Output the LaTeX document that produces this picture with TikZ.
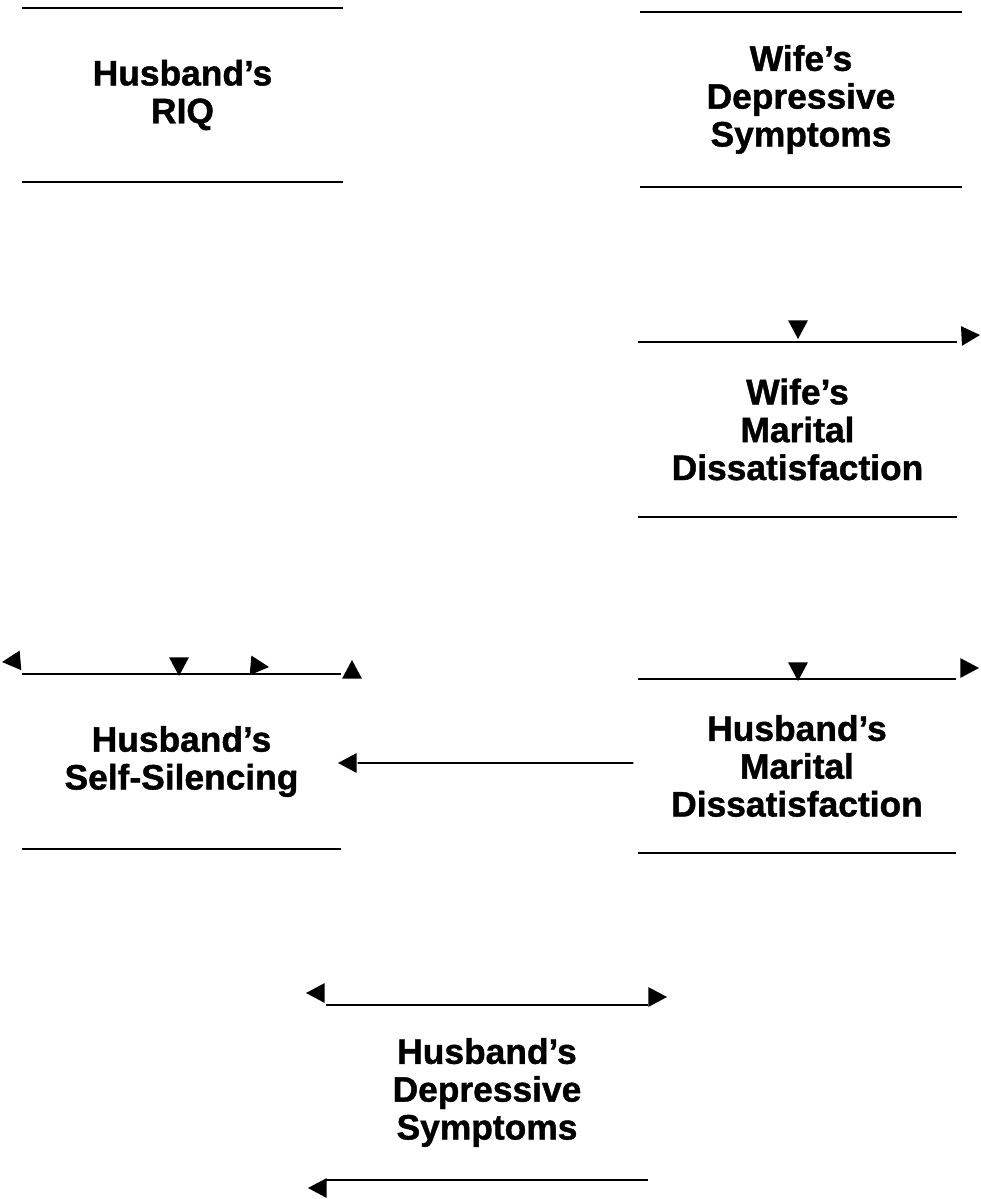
\documentclass[tikz,border=0pt]{standalone}
\usepackage{fontspec}
\setmainfont{Liberation Sans}[BoldFeatures={FakeBold=1.2}]
\usetikzlibrary{calc}

% filled triangular arrow tip: tip point (x,y) and the direction it points to
\newcommand\tipat[3]{\fill (#1,#2) -- +(#3+152:21) -- +(#3+208:21) -- cycle;}

\tikzset{
  box/.style 2 args={minimum width=#1, minimum height=#2, inner sep=0pt,
    align=center, font=\fontsize{35.5}{38}\selectfont\bfseries},
  rule/.style={line width=1.8bp},
  arr/.style={line width=1.8bp}
}

\begin{document}
\begin{tikzpicture}[x=1bp, y=-1bp]
\useasboundingbox (0,0) rectangle (981,1199);

% variable blocks
\node[box={321}{174}] (riq)  at (182.5,95)   {Husband's\\RIQ};
\node[box={322}{175}] (wdep) at (801,99.5)   {Wife's\\Depressive\\Symptoms};
\node[box={319}{175}] (wmd)  at (797.5,429.5){Wife's\\Marital\\Dissatisfaction};
\node[box={319}{175}] (hss)  at (181.5,761.5){Husband's\\Self-Silencing};
\node[box={318}{174}] (hmd)  at (797,766)    {Husband's\\Marital\\Dissatisfaction};
\node[box={322}{175}] (hdep) at (487,1092.5) {Husband's\\Depressive\\Symptoms};

% top and bottom rules of every block
\foreach \b in {riq,wdep,wmd,hss,hmd,hdep}{
  \draw[rule] (\b.north west) -- (\b.north east);
  \draw[rule] (\b.south west) -- (\b.south east);
}

% path from husband's marital dissatisfaction to self-silencing
\coordinate (hmdout) at ($(hmd.west)+(-5,-3)$);
\coordinate (hssin)  at ($(hss.east)+(17,1.5)$);
\draw[arr] (hmdout) -- (hssin);
\tipat{338}{763}{180}

% arrow tips along the block rules
\tipat{798}{339}{90}
\tipat{980}{335}{-3}

\tipat{2}{662}{175}
\tipat{179}{676}{90}
\tipat{269}{667}{5}
\tipat{352}{660}{270}

\tipat{798}{681}{90}
\tipat{979}{668}{0}

\tipat{306}{993}{180}
\tipat{667}{997}{0}
\tipat{308}{1188}{180}
\end{tikzpicture}
\end{document}
